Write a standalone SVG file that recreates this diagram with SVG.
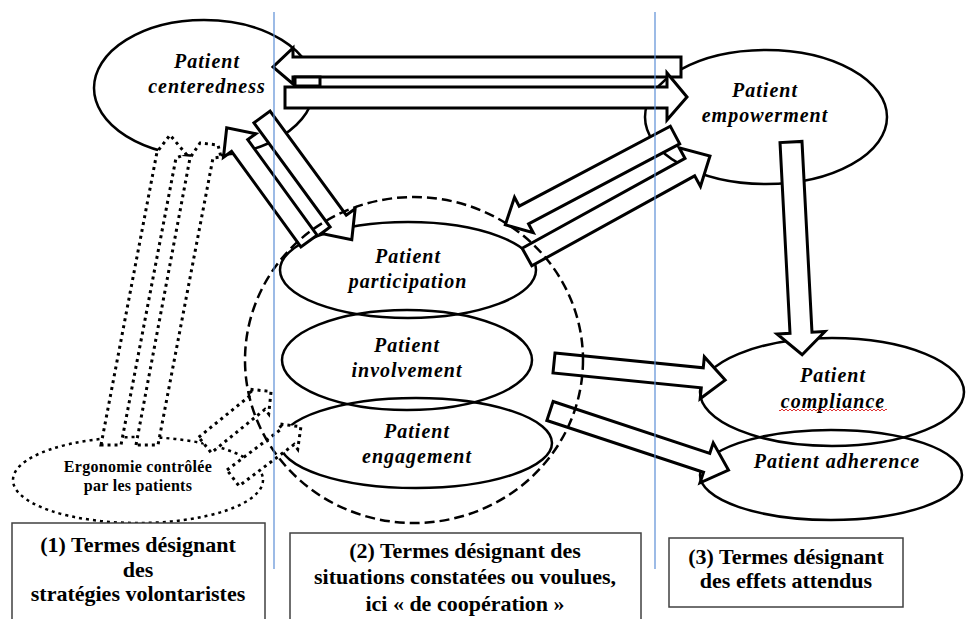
<svg xmlns="http://www.w3.org/2000/svg" width="966" height="619" viewBox="0 0 966 619">
<style>
.el{fill:none;stroke:#000;stroke-width:2.5}
.ar{fill:#fff;stroke:#000;stroke-width:3;stroke-linejoin:miter}
.dt{fill:#fff;stroke:#000;stroke-width:3;stroke-dasharray:3 4}
.lbl{font-family:"Liberation Serif",serif;font-weight:bold;font-style:italic;font-size:20px;letter-spacing:1px;text-anchor:middle;fill:#000}
.erg{font-family:"Liberation Serif",serif;font-weight:bold;font-size:16px;letter-spacing:0.3px;text-anchor:middle;fill:#000}
.box{fill:#fff;stroke:#404040;stroke-width:1.5}
.bt{font-family:"Liberation Serif",serif;font-weight:bold;font-size:22px;text-anchor:middle;fill:#000}
.blue{stroke:#5b8ed6;stroke-width:1.2}
</style>
<defs>
<pattern id="wave" width="4" height="4" patternUnits="userSpaceOnUse">
<path d="M0 3 L2 1 L4 3" stroke="#e03030" stroke-width="1" fill="none"/>
</pattern>
</defs>
<rect width="966" height="619" fill="#fff"/>

<g id="node-centeredness">
<ellipse class="el" cx="204" cy="88" rx="110" ry="68"/>
</g>
<g id="node-empowerment">
<ellipse class="el" cx="766" cy="117" rx="121" ry="67"/>
</g>
<g id="node-participation">
<ellipse class="el" cx="408" cy="270" rx="128" ry="48"/>
</g>
<g id="node-involvement">
<ellipse class="el" cx="407" cy="360" rx="125" ry="50"/>
</g>
<g id="node-engagement">
<ellipse class="el" cx="416" cy="443" rx="136" ry="45"/>
</g>
<g id="node-compliance">
<ellipse class="el" cx="832" cy="392" rx="132" ry="54"/>
</g>
<g id="node-adherence">
<ellipse class="el" cx="831" cy="475" rx="131" ry="45"/>
</g>
<g id="node-ergonomie">
<ellipse class="el" cx="138" cy="480" rx="125" ry="43" stroke-dasharray="3 4" stroke-width="3"/>
</g>

<g id="connectors">
<polygon class="ar" points="681,57 293,57 293,48 273,67 293,84 293,77 681,77"/>
<rect class="ar" x="295" y="77" width="25" height="9" stroke-width="2.5"/>
<polygon class="ar" points="285,87 667,87 667,73 687,97 667,120 667,108 285,108"/>
<polygon class="ar" transform="translate(309,241) rotate(-126)" points="0,-10 118,-10 118,-20 140,0 118,20 118,10 0,10"/>
<polygon class="ar" transform="translate(262,117) rotate(53.8)" points="0,-10 129,-10 129,-21 152,0 129,21 129,10 0,10"/>
<polygon class="ar" transform="translate(675,135) rotate(152.1)" points="0,-10 171,-10 171,-20 192,0 171,20 171,10 0,10"/>
<polygon class="ar" transform="translate(527,257) rotate(-28.9)" points="0,-10 186,-10 186,-22 209,0 186,22 186,10 0,10"/>
<polygon class="ar" transform="translate(554,363) rotate(5.7)" points="0,-10 149,-10 149,-21 172,0 149,21 149,10 0,10"/>
<polygon class="ar" transform="translate(550,411) rotate(18.3)" points="0,-10 165,-10 165,-21 188,0 165,21 165,10 0,10"/>
<polygon class="ar" transform="translate(791,142) rotate(87)" points="0,-11 191,-11 191,-24 213,0 191,24 191,11 0,11"/>
<polygon class="dt" points="101,445 157,152 170,135 186,154 176,158 121,445"/>
<polygon class="dt" points="136,445 190,158 200,143 218,145 221,157 213,158 158,445"/>
<polygon class="dt" transform="translate(205,445) rotate(-39)" points="0,-10 69,-10 69,-16 85,0 69,16 69,10 0,10"/>
<polygon class="dt" transform="translate(233,478) rotate(-37)" points="0,-10 69,-10 69,-16 85,0 69,16 69,10 0,10"/>
</g>

<g id="group-cooperation">
<ellipse class="el" cx="414" cy="360" rx="169" ry="163" stroke-dasharray="10 5"/>
</g>

<g id="labels">
<text class="lbl" x="207" y="68">Patient</text>
<text class="lbl" x="207" y="93">centeredness</text>
<text class="lbl" x="765" y="97">Patient</text>
<text class="lbl" x="765" y="122">empowerment</text>
<text class="lbl" x="408" y="263">Patient</text>
<text class="lbl" x="408" y="288">participation</text>
<text class="lbl" x="407" y="352">Patient</text>
<text class="lbl" x="407" y="377">involvement</text>
<text class="lbl" x="417" y="438">Patient</text>
<text class="lbl" x="417" y="463">engagement</text>
<text class="lbl" x="833" y="382">Patient</text>
<text class="lbl" x="833" y="408">compliance</text>
<rect x="779" y="409" width="108" height="4" fill="url(#wave)"/>
<text class="lbl" x="837" y="468">Patient adherence</text>
<text class="erg" x="138" y="472">Ergonomie contrôlée</text>
<text class="erg" x="138" y="491">par les patients</text>
</g>

<g id="separators">
<line class="blue" x1="274" y1="12" x2="274" y2="569"/>
<line class="blue" x1="655" y1="12" x2="655" y2="569"/>
</g>

<g id="box-1">
<rect class="box" x="12" y="523" width="253" height="110"/>
<text class="bt" x="138" y="552">(1) Termes désignant</text>
<text class="bt" x="138" y="577">des</text>
<text class="bt" x="138" y="601">stratégies volontaristes</text>
</g>
<g id="box-2">
<rect class="box" x="290" y="533" width="351" height="100"/>
<text class="bt" x="465" y="558">(2) Termes désignant des</text>
<text class="bt" x="465" y="584">situations constatées ou voulues,</text>
<text class="bt" x="465" y="611">ici « de coopération »</text>
</g>
<g id="box-3">
<rect class="box" x="669" y="538" width="234" height="69"/>
<text class="bt" x="786" y="564">(3) Termes désignant</text>
<text class="bt" x="786" y="588">des effets attendus</text>
</g>
</svg>
